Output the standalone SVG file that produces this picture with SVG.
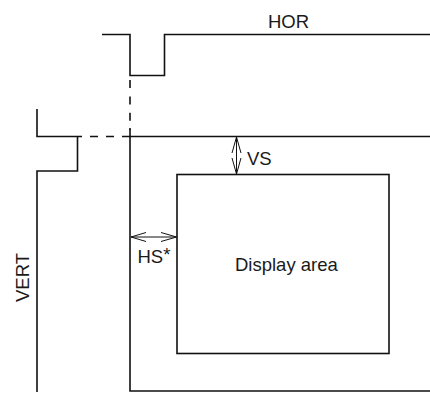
<svg xmlns="http://www.w3.org/2000/svg" width="430" height="394" viewBox="0 0 430 394">
<style>
.l{fill:none;stroke:#111;stroke-width:1.6}
.d{stroke-dasharray:8 8.400}
.a{fill:none;stroke:#111;stroke-width:1}
.t{font-family:"Liberation Sans",Arial,sans-serif;font-size:18.500px;fill:#1a1a1a}
</style>
<rect width="430" height="394" fill="#fff"/>
<g id="connectors">
<path class="l" d="M102 34.500H130V75.500H164.500V34.500H430"/>
<path class="l d" d="M130 80V130"/>
<path class="l" d="M130 128V391H430"/>
<path class="l" d="M37 109V136.500H77.500V171H37V392"/>
<path class="l" d="M130 136.500H78" style="stroke-dasharray:8 8"/>
<path class="l" d="M130 136.500H430"/>
<path class="a" d="M236.500 137V174"/>
<path class="a" d="M236.500 137L232 153M236.500 137L241 153M236.500 174L232 158M236.500 174L241 158"/>
<path class="a" d="M131 237H176.500"/>
<path class="a" d="M131 237L146 232.500M131 237L146 241.500M176.500 237L161 232.500M176.500 237L161 241.500"/>
</g>
<g id="display-area">
<rect class="l" x="177" y="174.500" width="212" height="179"/>
<text class="t" x="235" y="271">Display area</text>
</g>
<g id="labels">
<text class="t" x="268" y="28">HOR</text>
<text class="t" x="247" y="165">VS</text>
<text class="t" x="137.500" y="263">HS<tspan dy="-2">*</tspan></text>
<text class="t" transform="translate(28.500 302) rotate(-90)">VERT</text>
</g>
</svg>
